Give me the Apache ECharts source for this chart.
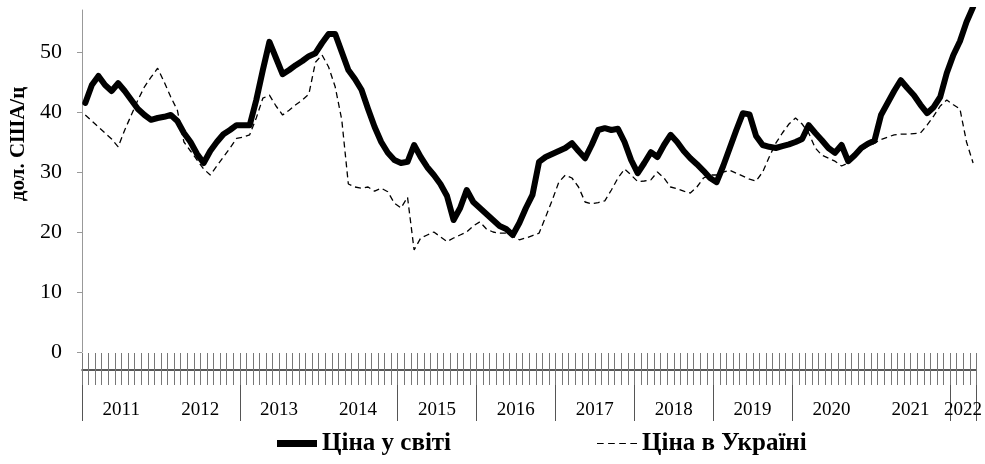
<!DOCTYPE html>
<html>
<head>
<meta charset="utf-8">
<script src="https://cdn.jsdelivr.net/npm/echarts@6/dist/echarts.min.js"></script>
<style>
    html, body { margin: 0; padding: 0; background: #fff; }
    #priceChart { width: 985px; height: 464px; }
</style>
</head>
<body>
<div id="priceChart"></div>
<script>
// years on the axis, months run Jan 2011 .. Apr 2022
var years = ['2011', '2012', '2013', '2014', '2015', '2016', '2017', '2018', '2019', '2020', '2021', '2022'];
var monthsInLastYear = 4;
// years whose start gets a separator line (as in the source picture)
var yearSeparators = ['2011', '2013', '2015', '2016', '2017', '2018', '2019', '2020', '2022'];

// world price, USD per centner
var worldPrice = [
    41.5, 44.5, 46, 44.5, 43.5, 44.8, 43.5, 42, 40.5, 39.5, 38.7, 39,
    39.2, 39.5, 38.5, 36.5, 35, 33, 31.5, 33.5, 35, 36.3, 37, 37.8,
    37.8, 37.8, 42, 47, 51.7, 49, 46.3, 47, 47.8, 48.5, 49.3, 49.8,
    51.5, 53, 53, 50, 47, 45.5, 43.7, 40.5, 37.5, 35, 33.2, 32,
    31.5, 31.7, 34.5, 32.5, 30.8, 29.5, 28, 26, 22, 24, 27, 25,
    24, 23, 22, 21, 20.5, 19.5, 21.5, 24, 26.2, 31.7, 32.5, 33,
    33.5, 34, 34.8, 33.5, 32.3, 34.5, 37, 37.3, 37, 37.2, 35, 32,
    29.8, 31.5, 33.3, 32.5, 34.5, 36.2, 35, 33.5, 32.3, 31.3, 30.2, 29,
    28.3, 31, 34, 37, 39.8, 39.6, 36, 34.5, 34.2, 34, 34.3, 34.6,
    35, 35.5, 37.8, 36.5, 35.3, 34, 33.2, 34.5, 31.8, 32.8, 34, 34.7,
    35.2, 39.5, 41.5, 43.5, 45.3, 44, 42.8, 41.2, 39.8, 40.8, 42.5, 46.5,
    49.5, 51.8, 55, 57.5
];

// price in Ukraine, USD per centner
var ukrainePrice = [
    39.5, 38.5, 37.5, 36.5, 35.5, 34.2, 37, 39.5, 42, 44.2, 45.8, 47.3,
    45, 42.5, 40.3, 35, 33.5, 32, 30.5, 29.5, 31, 32.5, 34, 35.6,
    35.8, 36.2, 39, 42.3, 42.8, 41, 39.5, 40.3, 41.2, 42, 43, 48.3,
    49.5, 47.5, 44.2, 38.7, 28, 27.5, 27.3, 27.5, 26.8, 27.3, 26.7, 24.8,
    24, 25.8, 17, 19, 19.5, 20, 19.2, 18.4, 19, 19.5, 20, 21,
    21.7, 20.5, 20, 19.8, 19.8, 19.3, 18.7, 19, 19.4, 19.8, 22.5, 25.3,
    28.3, 29.5, 29, 27.5, 25, 24.7, 24.9, 25.2, 27, 29, 30.5, 29.5,
    28.4, 28.5, 28.7, 30, 29, 27.5, 27.2, 26.8, 26.5, 27.5, 29, 29.5,
    29.5, 30, 30.3, 29.8, 29.3, 28.8, 28.5, 30, 32.5, 34.8, 36.5, 38,
    39, 38, 36.5, 34, 32.8, 32.3, 31.8, 31, 31.5, 32.8, 33.6, 34.3,
    34.8, 35.4, 35.8, 36.2, 36.3, 36.3, 36.4, 36.5, 37.8, 39.3, 41, 42,
    41.2, 40.5, 35, 31.5
];

var yTicks = [0, 10, 20, 30, 40, 50];

// month categories built from the year list
var months = [];
years.forEach(function (y, k) {
    var n = (k === years.length - 1) ? monthsInLastYear : 12;
    for (var m = 1; m <= n; m++) {
        months.push(y + '-' + (m < 10 ? '0' + m : m));
    }
});

var serif = '"Liberation Serif", "DejaVu Serif", serif';

function isSeparator(index) {
    var v = months[index];
    return v !== undefined && v.slice(5) === '01' && yearSeparators.indexOf(v.slice(0, 4)) !== -1;
}

function isYearLabel(index) {
    var v = months[index];
    if (!v) return false;
    if (v.slice(0, 4) === years[years.length - 1]) return v.slice(5) === '03';
    return v.slice(5) === '07';
}

var chart = echarts.init(document.getElementById('priceChart'));

var legendText = { fontFamily: serif, fontWeight: 'bold', fontSize: 25, color: '#000' };

var option = {
    backgroundColor: '#fff',
    animation: false,
    grid: { left: 82, right: 3, top: 10, bottom: 112, containLabel: false },
    legend: [
        {
            data: [{ name: 'Ціна у світі', icon: 'rect' }],
            left: 277, top: 431, padding: 0,
            itemWidth: 40, itemHeight: 7, itemGap: 5,
            itemStyle: { color: '#000', borderWidth: 0 },
            textStyle: legendText
        },
        {
            data: [{ name: 'Ціна в Україні', icon: 'path://M0,0h6v1h-6zM10,0h6v1h-6zM20,0h6v1h-6zM30,0h6v1h-6z' }],
            left: 597, top: 431, padding: 0,
            itemWidth: 40, itemHeight: 1.5, itemGap: 5,
            itemStyle: { color: '#000', borderWidth: 0 },
            textStyle: legendText
        }
    ],
    xAxis: [
        {
            type: 'category',
            data: months,
            boundaryGap: true,
            position: 'bottom',
            offset: 18,
            axisLine: { show: true, onZero: false, lineStyle: { color: '#222', width: 1.5 } },
            axisTick: { show: true, inside: true, length: 17, interval: 0, lineStyle: { color: '#777' } },
            axisLabel: { show: false },
            splitLine: { show: false }
        },
        {
            type: 'category',
            data: months,
            boundaryGap: true,
            position: 'bottom',
            offset: 18,
            axisLine: { show: false, onZero: false },
            axisTick: { show: true, length: 15, interval: 0, lineStyle: { color: '#777' } },
            axisLabel: { show: false },
            splitLine: { show: false }
        },
        {
            type: 'category',
            data: months,
            boundaryGap: true,
            position: 'bottom',
            offset: 33,
            axisLine: { show: false, onZero: false },
            axisTick: {
                show: true, length: 36,
                interval: function (index) { return isSeparator(index) || index === months.length; },
                lineStyle: { color: '#555' }
            },
            axisLabel: {
                show: true,
                interval: function (index) { return isYearLabel(index); },
                formatter: function (v) { return v.slice(0, 4); },
                margin: 16,
                padding: [0, 7, 0, 0],
                fontFamily: serif, fontSize: 19, color: '#000'
            },
            splitLine: { show: false }
        }
    ],
    yAxis: {
        type: 'value',
        min: yTicks[0],
        max: 57,
        interval: yTicks[1] - yTicks[0],
        name: 'дол. США/ц',
        nameLocation: 'middle',
        nameGap: 50,
        nameTextStyle: { fontFamily: serif, fontWeight: 'bold', fontSize: 21, color: '#000', padding: [0, 0, 0, 74] },
        axisLine: { show: true, lineStyle: { color: '#999' } },
        axisTick: { show: true, length: 5, lineStyle: { color: '#999' } },
        axisLabel: {
            showMaxLabel: false,
            margin: 20,
            fontFamily: serif, fontSize: 22, color: '#000',
            formatter: function (v) { return yTicks.indexOf(v) !== -1 ? v : ''; }
        },
        splitLine: { show: false }
    },
    series: [
        {
            name: 'Ціна у світі',
            type: 'line',
            data: worldPrice,
            symbol: 'none',
            smooth: false,
            color: '#000',
            lineStyle: { color: '#000', width: 6, join: 'round', cap: 'round' },
            z: 3
        },
        {
            name: 'Ціна в Україні',
            type: 'line',
            data: ukrainePrice,
            symbol: 'none',
            smooth: false,
            color: '#000',
            lineStyle: { color: '#000', width: 1.3, type: [6, 4] },
            z: 2
        }
    ]
};

chart.setOption(option);

window.addEventListener('resize', function () {
    chart.resize();
});
</script>
</body>
</html>
